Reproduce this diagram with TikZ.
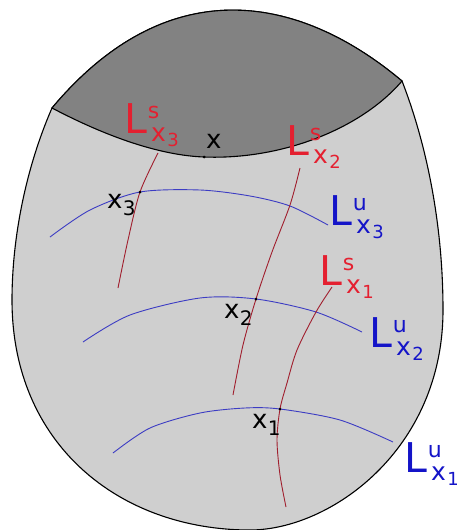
\documentclass[tikz,border=0pt]{standalone}
\usepackage{fontspec}
\setmainfont{DejaVu Sans}
\definecolor{lightfill}{RGB}{207,207,207}
\definecolor{darkfill}{RGB}{130,130,130}
\definecolor{labred}{RGB}{228,32,48}
\definecolor{labblue}{RGB}{20,20,200}
\definecolor{linered}{RGB}{160,30,45}
\definecolor{lineblue}{RGB}{60,60,195}
\newcommand\Lsym[2]{{\fontsize{41}{41}\selectfont L}\kern1pt\rlap{\raisebox{15pt}{\fontsize{22}{22}\selectfont #1}}\kern3.3pt\raisebox{-8pt}{\fontsize{25}{25}\selectfont x\kern1.5pt\raisebox{-5pt}{\fontsize{18}{18}\selectfont #2}}}
\newcommand\Xpt[1]{{\fontsize{26}{26}\selectfont x}\kern0.5pt\raisebox{-7pt}{\fontsize{20}{20}\selectfont #1}}
\tikzset{
  outline/.style={draw=black,line width=1.1pt},
  ucurve/.style={draw=lineblue,line width=0.9pt},
  scurve/.style={draw=linered,line width=0.9pt},
  lab/.style={anchor=base west,inner sep=0pt,outer sep=0pt},
  ptdot/.style={fill=black,circle,inner sep=0pt,minimum size=3pt}
}
\begin{document}
\begin{tikzpicture}[x=1pt,y=-1pt]
\useasboundingbox (0,0) rectangle (457,530);
\fill[white] (0,0) rectangle (457,530);
\coordinate (cl) at (52,108);
\coordinate (cr) at (402,81);
\coordinate (lm) at (12,300);
\coordinate (bm) at (250,530);
\coordinate (rm) at (443,310);
\coordinate (p0) at (204,157);
\coordinate (p3) at (140,192);
\coordinate (p2) at (256,299);
\coordinate (p1) at (280,409);
% light body
\path[fill=lightfill,outline] (cl) .. controls (25,170) and (12,240) .. (lm)
  .. controls (12,445) and (120,530) .. (bm)
  .. controls (330,530) and (443,450) .. (rm)
  .. controls (443,220) and (425,140) .. (cr)
  .. controls (296,-8) and (166,-28) .. (cl) -- cycle;
% dark cap
\path[fill=darkfill,outline] (cl) .. controls (166,-28) and (296,-8) .. (cr)
  .. controls (360,130) and (280,160) .. (p0)
  .. controls (150,155) and (90,128) .. (cl) -- cycle;
% unstable curves
\path[ucurve] plot[smooth] coordinates {(50,237) (90,210) (p3) (200,190) (250,196) (290,206) (328,225)};
\path[ucurve] plot[smooth] coordinates {(83,342) (130,315) (200,298) (p2) (316,312) (362,332)};
\path[ucurve] plot[smooth] coordinates {(113,453) (150,428) (200,413) (245,408) (p1) (340,420) (393,442)};
% stable curves
\path[scurve] plot[smooth] coordinates {(158,153) (p3) (128,240) (118,288)};
\path[scurve] plot[smooth] coordinates {(300,168) (290,205) (272,252) (p2) (243,345) (233,395)};
\path[scurve] plot[smooth] coordinates {(332,287) (316,312) (297,350) (287,383) (p1) (277,440) (280,475) (286,507)};
% points
\node[ptdot] (d0) at (p0) {};
\node[ptdot] (d3) at (p3) {};
\node[ptdot] (d2) at (p2) {};
\node[ptdot] (d1) at (p1) {};
% labels
\node[lab,text=black] (tx) at (206,148) {\fontsize{26}{26}\selectfont x};
\node[lab,text=black] (tx3) at (107,208) {\Xpt{3}};
\node[lab,text=black] (tx2) at (224,318) {\Xpt{2}};
\node[lab,text=black] (tx1) at (252,428) {\Xpt{1}};
\node[lab,text=labred] (ls3) at (124,133) {\Lsym{s}{3}};
\node[lab,text=labred] (ls2) at (286,155) {\Lsym{s}{2}};
\node[lab,text=labred] (ls1) at (319,285) {\Lsym{s}{1}};
\node[lab,text=labblue] (lu3) at (329,225) {\Lsym{u}{3}};
\node[lab,text=labblue] (lu2) at (369,347) {\Lsym{u}{2}};
\node[lab,text=labblue] (lu1) at (404,472) {\Lsym{u}{1}};
\end{tikzpicture}
\end{document}
